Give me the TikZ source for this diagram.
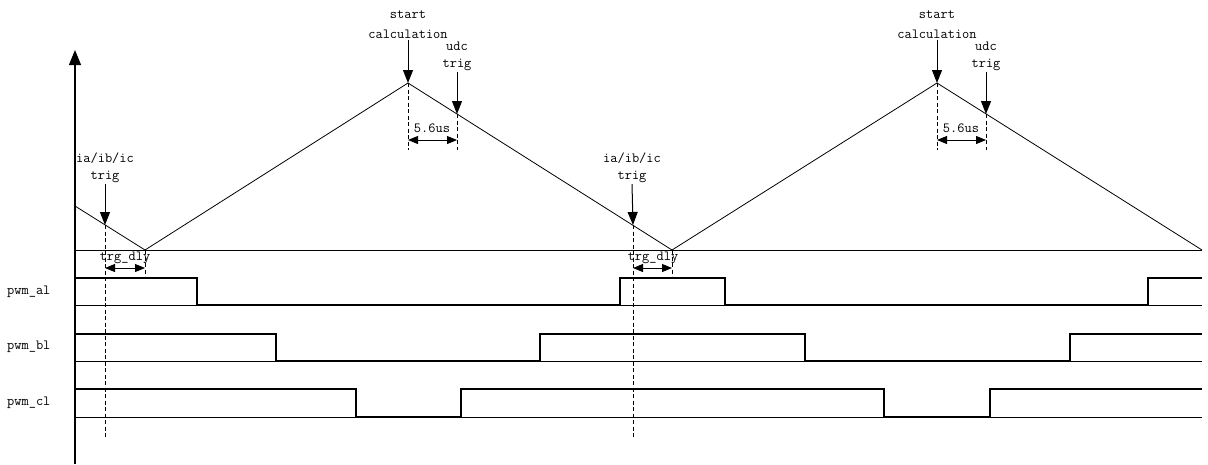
\documentclass[tikz,border=0pt]{standalone}
\usepackage{fontspec}
\usetikzlibrary{arrows.meta}
\begin{document}
\begin{tikzpicture}[x=1pt,y=-1pt,
  lbl/.style={font=\fontsize{14}{16}\selectfont\ttfamily, inner sep=1pt},
  wave/.style={line width=0.8pt},
  sig/.style={line width=1.1pt, line join=miter},
  trigarrow/.style={line width=1pt,-{Triangle[length=13pt,width=10pt]}},
  dimarrow/.style={line width=0.9pt,{Triangle[length=10pt,width=8pt]}-{Triangle[length=10pt,width=8pt]}},
  guide/.style={line width=0.7pt,dash pattern=on 4pt off 2.5pt}]
\useasboundingbox (0,0) rectangle (1208,464);

% axis
\coordinate (ax0) at (75,464);
\coordinate (ax1) at (75,50);
\draw[line width=1.2pt,-{Triangle[length=15pt,width=12pt]}] (ax0) -- (ax1);

% carrier baseline
\coordinate (b0) at (75,250);
\coordinate (b1) at (1202,250);
\draw[wave] (b0) -- (b1);

% triangular carrier
\coordinate (c0) at (75,206);
\coordinate (v1) at (145,250);
\coordinate (p1) at (408,83);
\coordinate (v2) at (672,250);
\coordinate (p2) at (937,83);
\coordinate (v3) at (1202,250);
\draw[wave] (c0) -- (v1) -- (p1) -- (v2) -- (p2) -- (v3);

% trigger points on carrier
\coordinate (t1) at (105,225);
\coordinate (t2) at (633,225);
\coordinate (u1) at (457,114);
\coordinate (u2) at (986,114);

% start calculation / udc trig (1)
\node[lbl] (sc1a) at (408,15) {start};
\node[lbl] (sc1b) at (408,34) {calculation};
\draw[trigarrow] (sc1b.south) -- (p1);
\node[lbl] (ud1a) at (457,46) {udc};
\node[lbl] (ud1b) at (457,65) {trig};
\draw[trigarrow] (ud1b.south) -- (u1);
\coordinate (dp1) at (408,150);
\coordinate (du1) at (457,150);
\draw[guide] (p1) -- (dp1);
\draw[guide] (u1) -- (du1);
\coordinate (m1a) at (408,140);
\coordinate (m1b) at (457,140);
\draw[dimarrow] (m1a) -- (m1b);
\node[lbl] (us1) at (432,128) {5.6us};

% start calculation / udc trig (2)
\node[lbl] (sc2a) at (937,15) {start};
\node[lbl] (sc2b) at (937,34) {calculation};
\draw[trigarrow] (sc2b.south) -- (p2);
\node[lbl] (ud2a) at (986,46) {udc};
\node[lbl] (ud2b) at (986,65) {trig};
\draw[trigarrow] (ud2b.south) -- (u2);
\coordinate (dp2) at (937,150);
\coordinate (du2) at (986,150);
\draw[guide] (p2) -- (dp2);
\draw[guide] (u2) -- (du2);
\coordinate (m2a) at (937,140);
\coordinate (m2b) at (986,140);
\draw[dimarrow] (m2a) -- (m2b);
\node[lbl] (us2) at (961,128) {5.6us};

% ia/ib/ic trig (1)
\node[lbl] (ia1a) at (105,158) {ia/ib/ic};
\node[lbl] (ia1b) at (105,177) {trig};
\draw[trigarrow] (ia1b.south) -- (t1);
\coordinate (dt1) at (105,438);
\coordinate (dv1) at (145,276);
\draw[guide] (t1) -- (dt1);
\draw[guide] (v1) -- (dv1);
\coordinate (n1a) at (105,268);
\coordinate (n1b) at (145,268);
\draw[dimarrow] (n1a) -- (n1b);
\node[lbl] (td1) at (125,258) {trg\_dly};

% ia/ib/ic trig (2)
\node[lbl] (ia2a) at (632,158) {ia/ib/ic};
\node[lbl] (ia2b) at (632,177) {trig};
\draw[trigarrow] (ia2b.south) -- (t2);
\coordinate (dt2) at (633,438);
\coordinate (dv2) at (672,276);
\draw[guide] (t2) -- (dt2);
\draw[guide] (v2) -- (dv2);
\coordinate (n2a) at (633,268);
\coordinate (n2b) at (672,268);
\draw[dimarrow] (n2a) -- (n2b);
\node[lbl] (td2) at (653,258) {trg\_dly};

% PWM signals
\node[lbl, anchor=west] (la) at (6,292) {pwm\_al};
\node[lbl, anchor=west] (lb) at (6,347) {pwm\_bl};
\node[lbl, anchor=west] (lc) at (6,403) {pwm\_cl};

\draw[wave] (75,305) -- (1202,305);
\draw[sig] (75,278) -- (197,278) -- (197,305) -- (620,305) -- (620,278) -- (725,278) -- (725,305) -- (1148,305) -- (1148,278) -- (1202,278);

\draw[wave] (75,361) -- (1202,361);
\draw[sig] (75,334) -- (276,334) -- (276,361) -- (540,361) -- (540,334) -- (805,334) -- (805,361) -- (1070,361) -- (1070,334) -- (1202,334);

\draw[wave] (75,417) -- (1202,417);
\draw[sig] (75,389) -- (356,389) -- (356,417) -- (461,417) -- (461,389) -- (884,389) -- (884,417) -- (990,417) -- (990,389) -- (1202,389);
\end{tikzpicture}
\end{document}
